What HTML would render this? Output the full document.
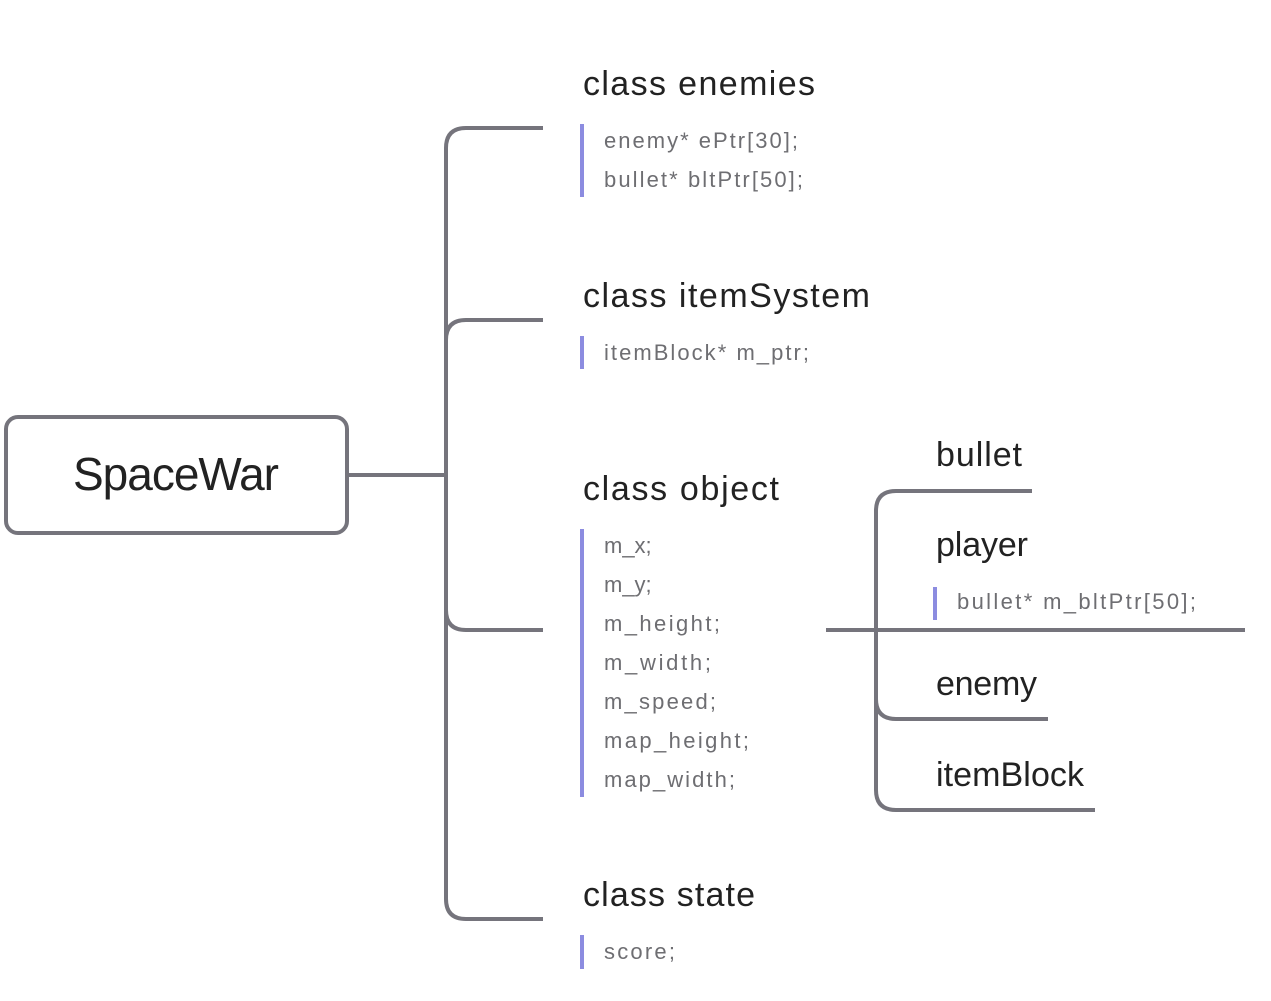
<!DOCTYPE html>
<html><head><meta charset="utf-8"><style>html,body{margin:0;padding:0;background:#fff}svg{display:block}</style></head>
<body>
<svg width="1271" height="1001" viewBox="0 0 1271 1001" xmlns="http://www.w3.org/2000/svg" font-family="Liberation Sans, DejaVu Sans, sans-serif">
<g fill="none" stroke="#75747c" stroke-width="4">
<rect x="6" y="417" width="341" height="116" rx="12"/>
<path d="M347 475 H446"/>
<path d="M543 128 H466 Q446 128 446 148 V899 Q446 919 466 919 H543"/>
<path d="M543 320 H466 Q446 320 446 340"/>
<path d="M446 610 Q446 630 466 630 H543"/>
<path d="M826 630 H1245"/>
<path d="M1032 491 H896 Q876 491 876 511 V790 Q876 810 896 810 H1095"/>
<path d="M876 699 Q876 719 896 719 H1048"/>
</g>
<g fill="#8c8ce0">
<rect x="580" y="124" width="4" height="73"/>
<rect x="580" y="336" width="4" height="33"/>
<rect x="580" y="529" width="4" height="268"/>
<rect x="580" y="935" width="4" height="34"/>
<rect x="933" y="587" width="4" height="33"/>
</g>
<text x="176" y="490" font-size="46" fill="#222" text-anchor="middle" textLength="206">SpaceWar</text>
<g font-size="34" fill="#222">
<text x="583" y="95" textLength="232">class enemies</text>
<text x="583" y="307" textLength="287">class itemSystem</text>
<text x="583" y="500" textLength="196">class object</text>
<text x="583" y="906" textLength="172">class state</text>
<text x="936" y="466" textLength="86">bullet</text>
<text x="936" y="556" textLength="92">player</text>
<text x="936" y="695" textLength="101">enemy</text>
<text x="936" y="786" textLength="148">itemBlock</text>
</g>
<g font-size="22" fill="#6e6e72">
<text x="604" y="148" textLength="194">enemy* ePtr[30];</text>
<text x="604" y="187" textLength="199">bullet* bltPtr[50];</text>
<text x="604" y="360" textLength="205">itemBlock* m_ptr;</text>
<text x="604" y="553">m_x;</text>
<text x="604" y="592">m_y;</text>
<text x="604" y="631" textLength="116">m_height;</text>
<text x="604" y="670" textLength="107">m_width;</text>
<text x="604" y="709" textLength="112">m_speed;</text>
<text x="604" y="748" textLength="145">map_height;</text>
<text x="604" y="787" textLength="131">map_width;</text>
<text x="604" y="959" textLength="71">score;</text>
<text x="957" y="609" textLength="239">bullet*  m_bltPtr[50];</text>
</g>
</svg>
</body></html>
